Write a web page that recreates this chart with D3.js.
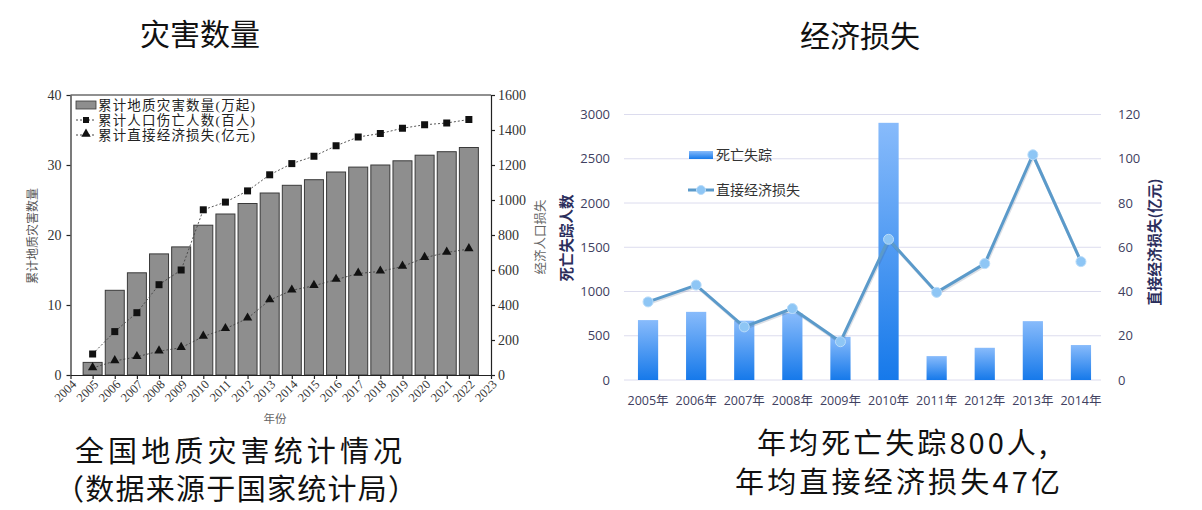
<!DOCTYPE html>
<html>
<head>
<meta charset="utf-8">
<script src="https://cdn.jsdelivr.net/npm/d3@7"></script>
<style>
  body { margin: 0; background: #fff; }
  svg { display: block; }
</style>
</head>
<body>
<div id="chart"></div>
<script>
// left chart: cumulative statistics 2005-2022
const yearsA = [2005, 2006, 2007, 2008, 2009, 2010, 2011, 2012, 2013, 2014, 2015, 2016, 2017, 2018, 2019, 2020, 2021, 2022];
const disasterCount = [1.8, 12.1, 14.6, 17.3, 18.3, 21.4, 23.0, 24.5, 26.0, 27.1, 27.9, 29.0, 29.7, 30.0, 30.6, 31.4, 31.9, 32.5];
const casualties = [120, 248, 356, 516, 600, 944, 988, 1052, 1144, 1208, 1250, 1310, 1360, 1380, 1410, 1430, 1440, 1460];
const econLossCum = [40, 80, 104, 136, 156, 220, 264, 324, 428, 484, 510, 545, 580, 592, 620, 670, 700, 720];
const xTicksA = d3.range(2004, 2024);
const leftTicksA = [0, 10, 20, 30, 40];
const rightTicksA = [0, 200, 400, 600, 800, 1000, 1200, 1400, 1600];

// right chart: yearly 2005-2014
const yearsB = ['2005年', '2006年', '2007年', '2008年', '2009年', '2010年', '2011年', '2012年', '2013年', '2014年'];
const deathsMissing = [677, 770, 670, 755, 488, 2906, 270, 364, 665, 395];
const directLoss = [35.3, 42.9, 24.0, 32.3, 17.3, 63.6, 39.6, 52.6, 101.8, 53.5];
const leftTicksB = [0, 500, 1000, 1500, 2000, 2500, 3000];
const rightTicksB = [0, 20, 40, 60, 80, 100, 120];

const width = 1202;
const height = 510;
const cjk = '"Noto Sans CJK SC", sans-serif';
const serif = '"Liberation Serif", "Noto Sans CJK SC", serif';
const sans = '"Open Sans", "Noto Sans CJK SC", sans-serif';
const plain = d3.format('d');

const svg = d3.select('#chart')
              .append('svg')
              .attr('width', width)
              .attr('height', height);

const defs = svg.append('defs');
const grad = defs.append('linearGradient')
                 .attr('id', 'barGrad')
                 .attr('x1', 0).attr('y1', 0)
                 .attr('x2', 0).attr('y2', 1);
grad.append('stop').attr('offset', '0%').attr('stop-color', '#88bbfb');
grad.append('stop').attr('offset', '100%').attr('stop-color', '#1679ea');

// ---------- left chart ----------
const xA = d3.scaleLinear().domain([2004, 2023]).range([70.5, 491]);
const yA = d3.scaleLinear().domain([0, 40]).range([375, 95]);
const yA2 = d3.scaleLinear().domain([0, 1600]).range([375, 95]);
const barW = 19;

svg.append('text')
   .attr('x', 200)
   .attr('y', 45)
   .attr('text-anchor', 'middle')
   .style('font-family', cjk)
   .style('font-size', '30px')
   .style('fill', '#111')
   .text('灾害数量');

const gA = svg.append('g');

gA.selectAll('rect.bar')
  .data(yearsA)
  .enter()
  .append('rect')
  .attr('class', 'bar')
  .attr('x', (d) => xA(d) - barW / 2)
  .attr('y', (d, i) => yA(disasterCount[i]))
  .attr('width', barW)
  .attr('height', (d, i) => yA(0) - yA(disasterCount[i]))
  .attr('fill', '#8e8e8e')
  .attr('stroke', '#3a3a3a')
  .attr('stroke-width', 1);

// top frame line
gA.append('line')
  .attr('x1', xA(2004)).attr('x2', xA(2023))
  .attr('y1', yA(40)).attr('y2', yA(40))
  .attr('stroke', '#222').attr('stroke-width', 1.2);

const axisA = (g) => g.selectAll('path, line').attr('stroke', '#222').attr('stroke-width', 1.2);

gA.append('g')
  .attr('transform', 'translate(' + xA(2004) + ',0)')
  .call(d3.axisLeft(yA).tickValues(leftTicksA).tickFormat(plain).tickSize(4).tickPadding(5).tickSizeOuter(0))
  .call(axisA)
  .call((g) => g.selectAll('text').style('font-family', serif).style('font-size', '14px').style('fill', '#333'));

gA.append('g')
  .attr('transform', 'translate(' + xA(2023) + ',0)')
  .call(d3.axisRight(yA2).tickValues(rightTicksA).tickFormat(plain).tickSize(4).tickPadding(3).tickSizeOuter(0))
  .call(axisA)
  .call((g) => g.selectAll('text').style('font-family', serif).style('font-size', '14px').style('fill', '#333'));

gA.append('g')
  .attr('transform', 'translate(0,' + yA(0) + ')')
  .call(d3.axisBottom(xA).tickValues(xTicksA).tickFormat(plain).tickSize(4).tickSizeOuter(0))
  .call(axisA)
  .call((g) => g.selectAll('text')
                .style('font-family', serif)
                .style('font-size', '12.5px')
                .style('fill', '#333')
                .attr('text-anchor', 'end')
                .attr('x', 0)
                .attr('y', 0)
                .attr('dy', '0.35em')
                .attr('transform', 'translate(3,7) rotate(-45)'));

const lineA = d3.line().x((d, i) => xA(yearsA[i])).y((d) => yA2(d));

gA.append('path')
  .datum(casualties)
  .attr('d', lineA)
  .attr('fill', 'none')
  .attr('stroke', '#444')
  .attr('stroke-width', 0.9)
  .attr('stroke-dasharray', '2,2');

gA.append('path')
  .datum(econLossCum)
  .attr('d', lineA)
  .attr('fill', 'none')
  .attr('stroke', '#444')
  .attr('stroke-width', 0.9)
  .attr('stroke-dasharray', '2,2');

gA.selectAll('rect.sq')
  .data(casualties)
  .enter()
  .append('rect')
  .attr('class', 'sq')
  .attr('x', (d, i) => xA(yearsA[i]) - 3.5)
  .attr('y', (d) => yA2(d) - 3.5)
  .attr('width', 7)
  .attr('height', 7)
  .attr('fill', '#111');

const tri = d3.symbol().type(d3.symbolTriangle).size(38);
gA.selectAll('path.tri')
  .data(econLossCum)
  .enter()
  .append('path')
  .attr('class', 'tri')
  .attr('d', tri)
  .attr('transform', (d, i) => 'translate(' + xA(yearsA[i]) + ',' + (yA2(d) - 0.5) + ')')
  .attr('fill', '#111');

// left chart legend
const legA = gA.append('g').style('font-family', serif).style('font-size', '13.5px').style('fill', '#222');
legA.append('rect').attr('x', 76).attr('y', 101).attr('width', 20).attr('height', 8)
    .attr('fill', '#8e8e8e').attr('stroke', '#3a3a3a').attr('stroke-width', 0.8);
legA.append('line').attr('x1', 76).attr('x2', 96).attr('y1', 120).attr('y2', 120)
    .attr('stroke', '#444').attr('stroke-dasharray', '2,2');
legA.append('rect').attr('x', 83).attr('y', 117).attr('width', 6).attr('height', 6).attr('fill', '#111');
legA.append('line').attr('x1', 76).attr('x2', 96).attr('y1', 135).attr('y2', 135)
    .attr('stroke', '#444').attr('stroke-dasharray', '2,2');
legA.append('path').attr('d', tri).attr('transform', 'translate(86,134)').attr('fill', '#111');
['累计地质灾害数量(万起)', '累计人口伤亡人数(百人)', '累计直接经济损失(亿元)'].forEach((t, i) => {
  legA.append('text').attr('x', 98).attr('y', 110 + i * 15).attr('textLength', 157).attr('lengthAdjust', 'spacing').text(t);
});

svg.append('text')
   .attr('transform', 'translate(37,236) rotate(-90)')
   .attr('text-anchor', 'middle')
   .style('font-family', cjk)
   .style('font-size', '12px')
   .style('fill', '#555')
   .text('累计地质灾害数量');

svg.append('text')
   .attr('transform', 'translate(545,237) rotate(-90)')
   .attr('text-anchor', 'middle')
   .style('font-family', cjk)
   .style('font-size', '12.5px')
   .style('fill', '#666')
   .text('经济人口损失');

svg.append('text')
   .attr('x', 275)
   .attr('y', 423)
   .attr('text-anchor', 'middle')
   .style('font-family', cjk)
   .style('font-size', '11.5px')
   .style('fill', '#666')
   .text('年份');

svg.append('text')
   .attr('x', 75).attr('y', 462)
   .attr('textLength', 327).attr('lengthAdjust', 'spacing')
   .style('font-family', cjk).style('font-size', '29px').style('fill', '#111')
   .text('全国地质灾害统计情况');

svg.append('text')
   .attr('x', 55).attr('y', 500)
   .attr('textLength', 362).attr('lengthAdjust', 'spacing')
   .style('font-family', cjk).style('font-size', '29px').style('fill', '#111')
   .text('（数据来源于国家统计局）');

// ---------- right chart ----------
const xB = d3.scaleBand().domain(yearsB).range([624, 1105]).paddingInner(0.58).paddingOuter(0.29);
const yB = d3.scaleLinear().domain([0, 3000]).range([380, 114.5]);
const yB2 = d3.scaleLinear().domain([0, 120]).range([380, 114.5]);

svg.append('text')
   .attr('x', 860)
   .attr('y', 47)
   .attr('text-anchor', 'middle')
   .style('font-family', cjk)
   .style('font-size', '30px')
   .style('fill', '#111')
   .text('经济损失');

const gB = svg.append('g');

gB.selectAll('line.grid')
  .data(leftTicksB)
  .enter()
  .append('line')
  .attr('class', 'grid')
  .attr('x1', 624).attr('x2', 1101)
  .attr('y1', (d) => yB(d)).attr('y2', (d) => yB(d))
  .attr('stroke', '#dcdcee')
  .attr('stroke-width', 1);

gB.append('g')
  .attr('transform', 'translate(618,0)')
  .call(d3.axisLeft(yB).tickValues(leftTicksB).tickFormat(plain).tickSize(0).tickPadding(8))
  .call((g) => g.select('.domain').remove())
  .call((g) => g.selectAll('text').style('font-family', sans).style('font-size', '13px').style('fill', '#404060'));

gB.append('g')
  .attr('transform', 'translate(1110,0)')
  .call(d3.axisRight(yB2).tickValues(rightTicksB).tickFormat(plain).tickSize(0).tickPadding(8))
  .call((g) => g.select('.domain').remove())
  .call((g) => g.selectAll('text').style('font-family', sans).style('font-size', '13px').style('fill', '#404060'));

gB.append('g')
  .attr('transform', 'translate(0,' + (yB(0) + 4) + ')')
  .call(d3.axisBottom(xB).tickSize(0).tickPadding(12))
  .call((g) => g.select('.domain').remove())
  .call((g) => g.selectAll('text').style('font-family', sans).style('font-size', '12.5px').style('fill', '#404060'));

gB.selectAll('rect.bar')
  .data(deathsMissing)
  .enter()
  .append('rect')
  .attr('class', 'bar')
  .attr('x', (d, i) => xB(yearsB[i]))
  .attr('y', (d) => yB(d))
  .attr('width', xB.bandwidth())
  .attr('height', (d) => yB(0) - yB(d))
  .attr('fill', 'url(#barGrad)');

const lineB = d3.line().x((d, i) => xB(yearsB[i]) + xB.bandwidth() / 2).y((d) => yB2(d));

gB.append('path')
  .datum(directLoss)
  .attr('d', lineB)
  .attr('fill', 'none')
  .attr('stroke', 'rgba(60,80,110,0.18)')
  .attr('stroke-width', 3)
  .attr('transform', 'translate(0.8,1.5)');

gB.append('path')
  .datum(directLoss)
  .attr('d', lineB)
  .attr('fill', 'none')
  .attr('stroke', '#5b9aca')
  .attr('stroke-width', 3);

gB.selectAll('circle.pt')
  .data(directLoss)
  .enter()
  .append('circle')
  .attr('class', 'pt')
  .attr('cx', (d, i) => xB(yearsB[i]) + xB.bandwidth() / 2)
  .attr('cy', (d) => yB2(d))
  .attr('r', 5)
  .attr('fill', '#8ec6f5')
  .attr('stroke', '#b9dcfa')
  .attr('stroke-width', 1);

// right chart legend
const legB = gB.append('g').style('font-family', cjk).style('font-size', '14px').style('fill', '#333');
legB.append('rect').attr('x', 689).attr('y', 151).attr('width', 24).attr('height', 8).attr('fill', 'url(#barGrad)');
legB.append('text').attr('x', 716).attr('y', 160).text('死亡失踪');
legB.append('line').attr('x1', 688).attr('x2', 714).attr('y1', 190).attr('y2', 190)
    .attr('stroke', '#5b9aca').attr('stroke-width', 3);
legB.append('circle').attr('cx', 701).attr('cy', 190).attr('r', 4.5)
    .attr('fill', '#8ec6f5').attr('stroke', '#b9dcfa');
legB.append('text').attr('x', 716).attr('y', 195).text('直接经济损失');

svg.append('text')
   .attr('transform', 'translate(572,238) rotate(-90)')
   .attr('text-anchor', 'middle')
   .style('font-family', cjk)
   .style('font-size', '14.5px')
   .style('font-weight', 'bold')
   .style('fill', '#2c2e5c')
   .text('死亡失踪人数');

svg.append('text')
   .attr('transform', 'translate(1160,242) rotate(-90)')
   .attr('text-anchor', 'middle')
   .style('font-family', cjk)
   .style('font-size', '14.5px')
   .style('font-weight', 'bold')
   .style('fill', '#2c2e5c')
   .text('直接经济损失(亿元)');

svg.append('text')
   .attr('x', 757).attr('y', 454)
   .attr('textLength', 290).attr('lengthAdjust', 'spacing')
   .style('font-family', cjk).style('font-size', '29px').style('fill', '#111')
   .text('年均死亡失踪800人,');

svg.append('text')
   .attr('x', 735).attr('y', 493)
   .attr('textLength', 325).attr('lengthAdjust', 'spacing')
   .style('font-family', cjk).style('font-size', '29px').style('fill', '#111')
   .text('年均直接经济损失47亿');
</script>
</body>
</html>
